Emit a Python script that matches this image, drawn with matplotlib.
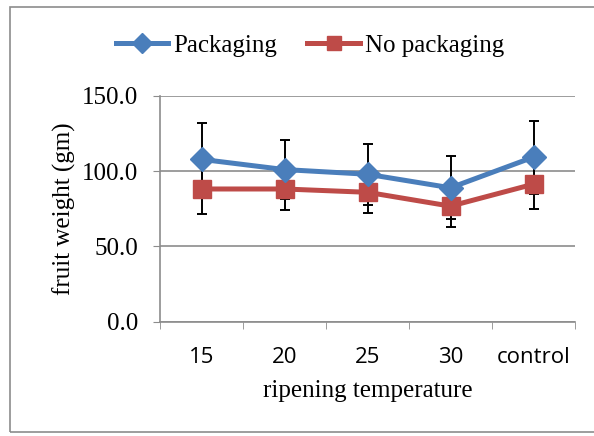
import matplotlib.pyplot as plt
import matplotlib.patches as patches

temps = ["15", "20", "25", "30", "control"]
packaging = [107.9, 101.1, 98.0, 89.0, 109.4]
packaging_err = [24.3, 19.5, 20.4, 21.0, 24.2]
no_packaging = [88.2, 88.2, 86.0, 76.8, 91.4]
no_packaging_err = [16.3, 13.7, 13.6, 14.1, 16.7]

blue = "#4a7ebb"
red = "#be4b48"
grey = "#8c8c8c"
serif = "Liberation Serif"

fig = plt.figure(figsize=(5.94, 4.36), dpi=100)
ax = fig.add_axes([160 / 594, 1 - 321.7 / 436, 415 / 594, (321.7 - 96) / 436])

# outer chart border
fig.patches.append(patches.Rectangle((10 / 594, 1 - 432 / 436), 1.0, (432 - 7) / 436,
                                     transform=fig.transFigure, fill=False,
                                     edgecolor=grey, linewidth=1.2))

x = list(range(len(temps)))

# error bars behind the lines
ax.errorbar(x, packaging, yerr=packaging_err, fmt="none", ecolor="black",
            elinewidth=1.4, capsize=3.8, capthick=1.4, zorder=2)
ax.errorbar(x, no_packaging, yerr=no_packaging_err, fmt="none", ecolor="black",
            elinewidth=1.4, capsize=3.8, capthick=1.4, zorder=2)

ax.plot(x, packaging, color=blue, lw=3.6, marker="D", markersize=12.5,
        label="Packaging", zorder=4)
ax.plot(x, no_packaging, color=red, lw=3.6, marker="s", markersize=12.5,
        label="No packaging", zorder=3)

ax.set_xlim(-0.5, len(temps) - 0.5)
ax.set_ylim(0, 150)
ax.set_yticks([0, 50, 100, 150])
ax.set_yticklabels(["%.1f" % v for v in [0, 50, 100, 150]], fontfamily=serif, fontsize=18)
ax.set_xticks(x)
ax.set_xticklabels(temps, fontfamily="Open Sans", fontsize=16)
ax.set_xticks([i - 0.5 for i in range(len(temps) + 1)], minor=True)
ax.tick_params(axis="x", which="major", length=0, pad=18)
ax.tick_params(axis="x", which="minor", length=5, color=grey, direction="out")
ax.tick_params(axis="y", length=5, color=grey, pad=11)

ax.grid(axis="y", color=grey, linewidth=1.2)
ax.set_axisbelow(True)
for s in ["top", "right"]:
    ax.spines[s].set_visible(False)
for s in ["left", "bottom"]:
    ax.spines[s].set_color(grey)
    ax.spines[s].set_linewidth(1.2)

ax.set_ylabel("fruit weight (gm)", fontfamily=serif, fontsize=18, labelpad=4)
ax.set_xlabel("ripening temperature", fontfamily=serif, fontsize=18, labelpad=9)

ax.legend(loc="center", bbox_to_anchor=(310 / 594, 1 - 46 / 436),
          bbox_transform=fig.transFigure, ncol=2, frameon=False,
          prop={"family": serif, "size": 18}, handlelength=2.1,
          handletextpad=0.2, columnspacing=1.2, markerscale=0.8)

fig.savefig("out.png", dpi=100)
